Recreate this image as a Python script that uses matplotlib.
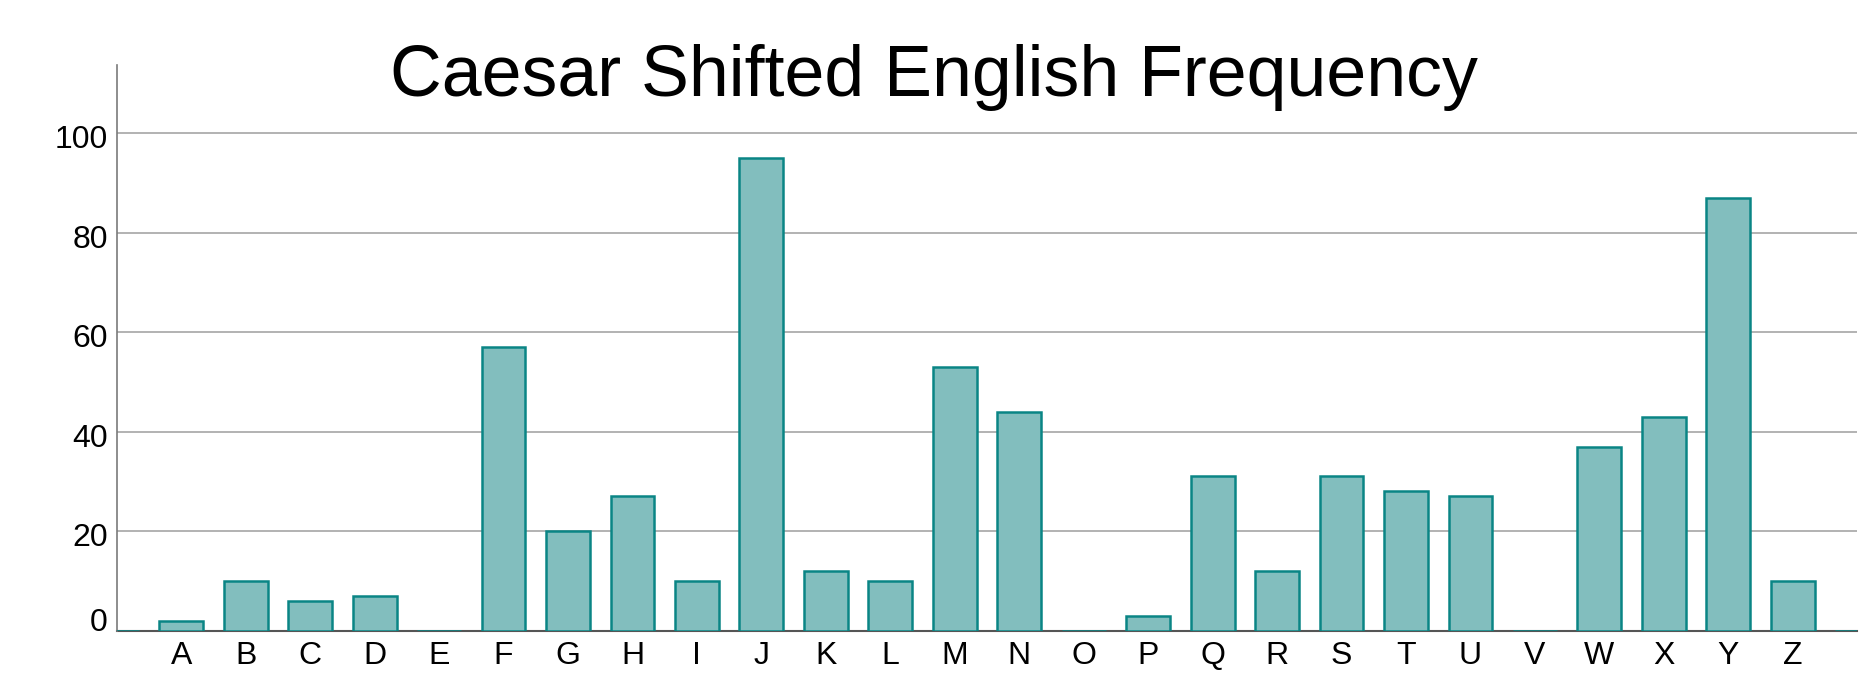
import matplotlib
matplotlib.use("Agg")
import matplotlib.pyplot as plt
import matplotlib.transforms as mtransforms

plt.rcParams['font.family'] = ['Liberation Sans', 'DejaVu Sans']

letters = list("ABCDEFGHIJKLMNOPQRSTUVWXYZ")
counts = [2, 10, 6, 7, 0, 57, 20, 27, 10, 95, 12, 10, 53, 44, 0, 3,
          31, 12, 31, 28, 27, 0, 37, 43, 87, 10]
# empty padding categories at both ends (drawn as zero-height bars)
categories = [""] + letters + [""]
values = [0] + counts + [0]
yticks = [0, 20, 40, 60, 80, 100]
title = "Caesar Shifted English Frequency"

W, H = 1868, 683
fig = plt.figure(figsize=(W / 100, H / 100), dpi=100)
left, right, bottom, top = 116.8, 1857.2, 630.7, 65.0
ax = fig.add_axes([left / W, 1 - bottom / H, (right - left) / W, (bottom - top) / H])

pos = list(range(-1, len(letters) + 1))
ax.bar(pos, values, width=0.68, color="#82bebe", edgecolor="#0a8585",
       linewidth=1.8, zorder=3, clip_on=True)

ax.set_xlim(-1, 26)
ax.set_ylim(0, 113.7)
ax.set_xticks(pos[1:-1])
ax.set_xticklabels(letters)
ax.set_yticks(yticks)
ax.set_yticklabels([str(v) for v in yticks])

ax.yaxis.grid(True, color="#a6a6a6", linewidth=1.2, zorder=0)
ax.xaxis.grid(False)
ax.set_axisbelow(True)

for s in ["top", "right"]:
    ax.spines[s].set_visible(False)
ax.spines["left"].set_color("#7a7a7a")
ax.spines["left"].set_linewidth(1.2)
ax.spines["bottom"].set_color("#555555")
ax.spines["bottom"].set_linewidth(1.5)
ax.spines["bottom"].set_zorder(2)

ax.tick_params(axis="both", length=0, labelsize=23, colors="black")
ax.tick_params(axis="x", pad=7.5)
ax.tick_params(axis="y", pad=6.5)

# small vertical offsets of y tick labels as in the reference
for lab, v in zip(ax.get_yticklabels(), yticks):
    dy = 11 if v == 0 else -3.5
    lab.set_transform(lab.get_transform() +
                      mtransforms.ScaledTranslation(0, dy / 100, fig.dpi_scale_trans))

t = fig.text(0.5, 1 - 96 / H, title, ha="center", va="baseline",
             fontsize=54, color="black")
fig.canvas.draw()
bb = t.get_window_extent()
t.set_fontsize(54 * 1089 / bb.width)

fig.savefig("out.png", dpi=100)
